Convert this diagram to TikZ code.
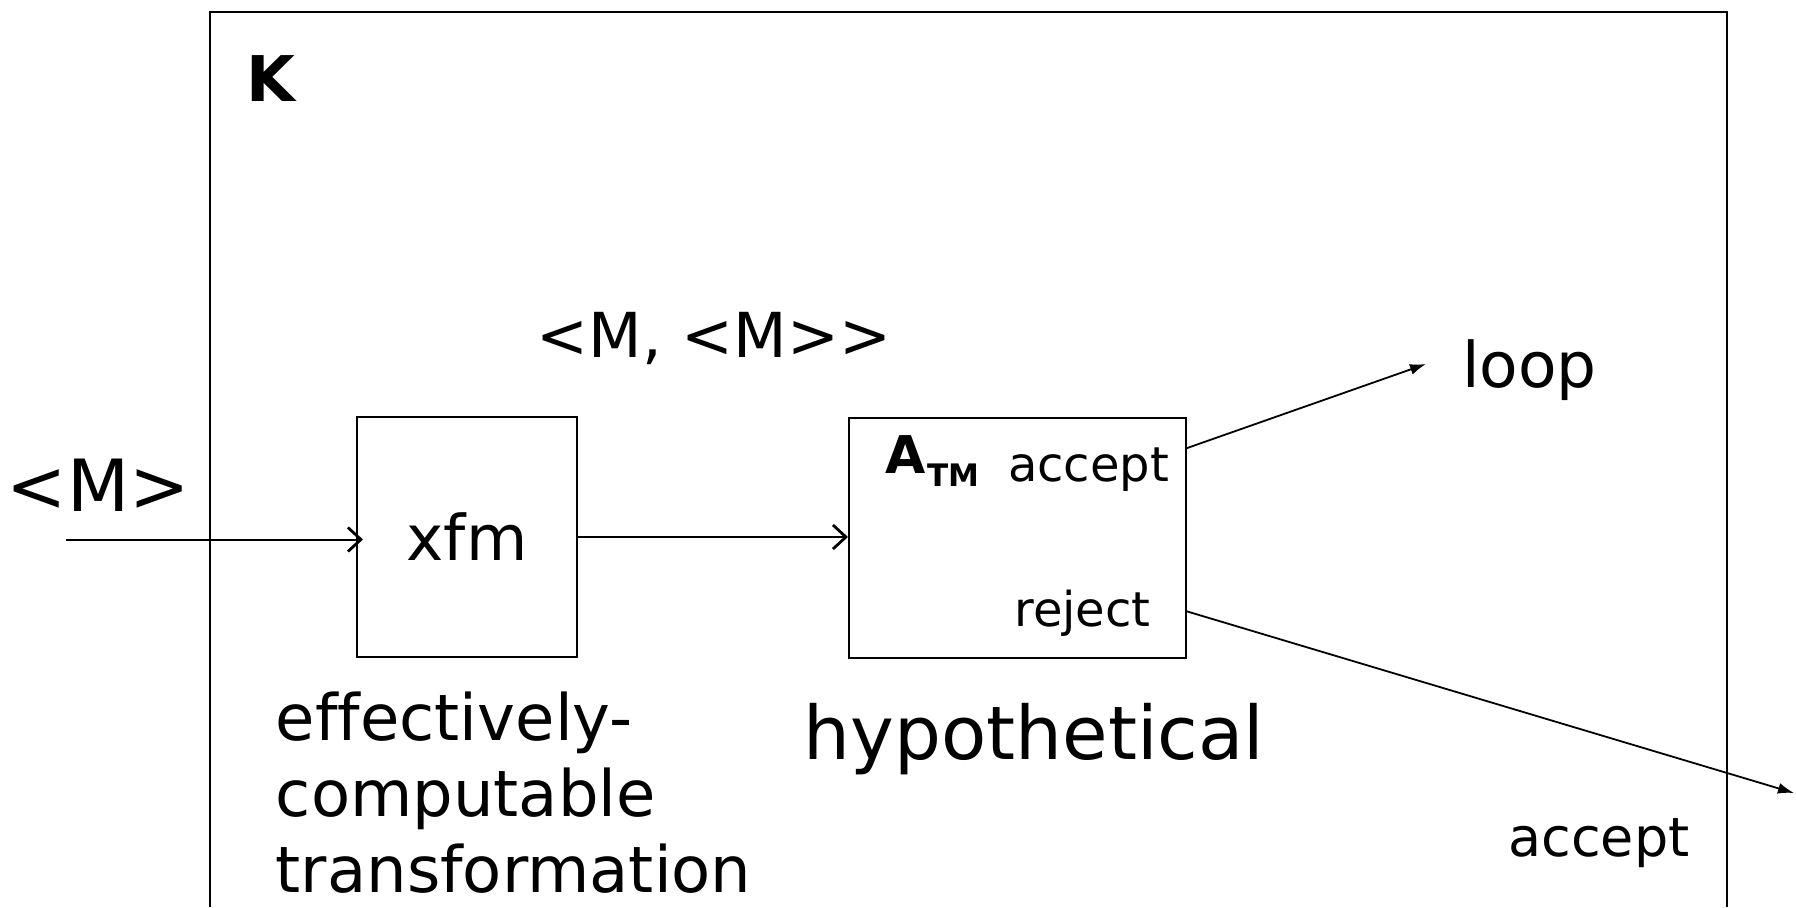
\documentclass[tikz,border=0pt]{standalone}
\usepackage{fontspec}
\setmainfont{DejaVu Sans}[Ligatures={NoCommon}]
\usetikzlibrary{arrows.meta}
\tikzset{
  box/.style={draw, line width=1pt, inner sep=0pt},
  lbl/.style={inner sep=0pt, anchor=base},
  barb/.style={-{Straight Barb[length=6.5pt,width=12pt,line width=1.4pt]}, line width=1pt},
  solidtip/.style={-{Latex[length=8pt,width=5.5pt]}, line width=0.9pt},
}
\begin{document}
\begin{tikzpicture}[x=0.5pt,y=-0.5pt]
\useasboundingbox (0,0) rectangle (1796,907);
% outer machine K
\draw[line width=1pt] (209.6,907) |- (1727,11.5) -- (1727,907);
\node[lbl, font=\fontsize{31.5}{38}\selectfont\bfseries] (K) at (271,101) {K};
% labels
\node[lbl, font=\fontsize{31}{37}\selectfont] (pair) at (714,357) {<M, <M>\kern0pt>};
\node[lbl, font=\fontsize{36}{43}\selectfont] (inM) at (98.3,511) {<M>};
% boxes
\node[box, minimum width=110pt, minimum height=120pt, font=\fontsize{31.5}{38}\selectfont] (xfm) at (467,537) {xfm};
\node[box, minimum width=168.25pt, minimum height=120pt] (atm) at (1017.25,538.25) {};
\node[inner sep=0pt, anchor=base west, font=\bfseries] (atmname) at (885.5,473.3)
  {\fontsize{26}{31}\selectfont A\kern0.8pt\raisebox{-6.7pt}{\fontsize{15.5}{19}\selectfont TM}};
\node[lbl, font=\fontsize{24}{29}\selectfont] (acc) at (1088.5,481.7) {accept};
\node[lbl, font=\fontsize{24}{29}\selectfont] (rej) at (1082.5,626.7) {reject};
\node[lbl, font=\fontsize{31.5}{38}\selectfont] (loop) at (1529.5,387) {loop};
\node[lbl, font=\fontsize{37}{44}\selectfont] (hyp) at (1034,759) {hypothetical};
\node[inner sep=0pt, anchor=base west, align=left, font=\fontsize{32}{38}\selectfont] (desc) at (275.5,892)
  {effectively-\\computable\\transformation};
\node[lbl, font=\fontsize{27}{32}\selectfont] (acc2) at (1599,856) {accept};
% connectors
\coordinate (src) at (66,539.5);
\coordinate (loopend) at (1426,364);
\coordinate (outend) at (1794,793);
\draw[barb, shorten >=-3.5pt] (src) -- (src -| xfm.west);
\draw[barb] (xfm.east) -- (xfm.east -| atm.west);
\draw[solidtip] ([yshift=-15.5pt]atm.north east) -- (loopend);
\draw[solidtip] ([yshift=24pt]atm.south east) -- (outend);
\end{tikzpicture}
\end{document}
